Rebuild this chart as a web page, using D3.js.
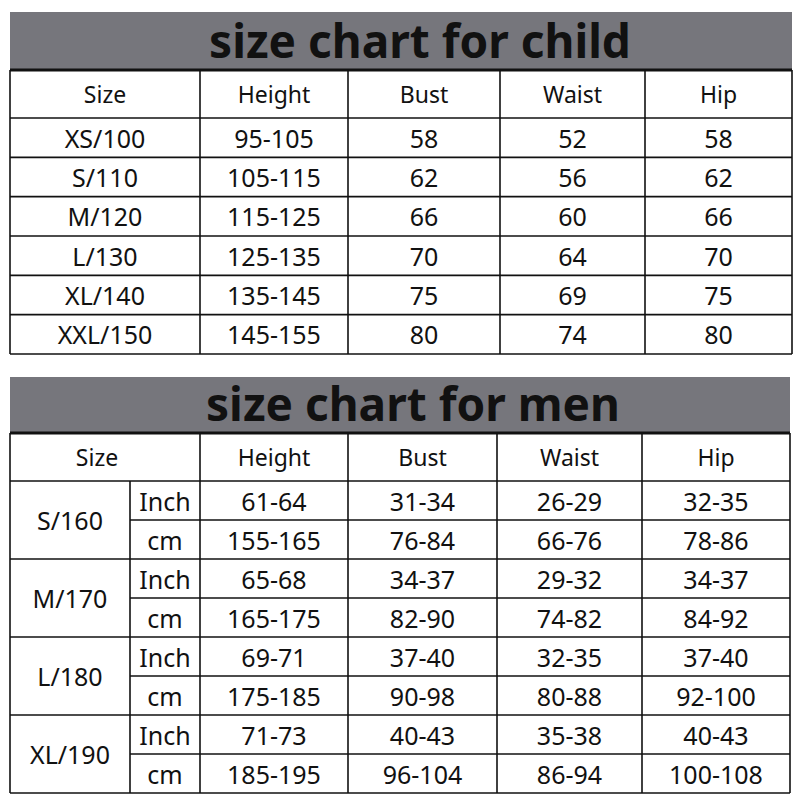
<!DOCTYPE html>
<html><head><meta charset="utf-8">
<script src="https://cdn.jsdelivr.net/npm/d3@7"></script>
<style>body{margin:0;background:#fff}</style></head>
<body><svg id="c" width="800" height="800"></svg>
<script>
const headers = ["Size","Height","Bust","Waist","Hip"];
const childSizes = ["XS/100","S/110","M/120","L/130","XL/140","XXL/150"];
const childHeight = ["95-105","105-115","115-125","125-135","135-145","145-155"];
const childBust = ["58","62","66","70","75","80"];
const childWaist = ["52","56","60","64","69","74"];
const childHip = ["58","62","66","70","75","80"];
const menSizes = ["S/160","M/170","L/180","XL/190"];
const units = ["Inch","cm"];
const menHeight = ["61-64","155-165","65-68","165-175","69-71","175-185","71-73","185-195"];
const menBust = ["31-34","76-84","34-37","82-90","37-40","90-98","40-43","96-104"];
const menWaist = ["26-29","66-76","29-32","74-82","32-35","80-88","35-38","86-94"];
const menHip = ["32-35","78-86","34-37","84-92","37-40","92-100","40-43","100-108"];

const svg = d3.select("#c");
const font = "'Noto Sans', 'Open Sans', sans-serif";
function txt(x,y,t,size,weight){
  svg.append("text").attr("x",x).attr("y",y).attr("text-anchor","middle")
   .attr("dominant-baseline","central").attr("font-family",font)
   .attr("font-size",size).attr("font-weight",weight||400).attr("fill","#111").text(t);
}
function line(x1,y1,x2,y2,w){
  svg.append("line").attr("x1",x1).attr("y1",y1).attr("x2",x2).attr("y2",y2)
   .attr("stroke","#111").attr("stroke-width",w||1.6);
}

// child table
const cx = [10,200,348,500,645,792];
svg.append("rect").attr("x",10).attr("y",12).attr("width",782).attr("height",58).attr("fill","#76767c");
txt(420,40,"size chart for child",46,700);
const ch0=70, ch1=118;
const cy = d3.scaleLinear().domain([0,6]).range([ch1,354]);
const childCols = [childSizes,childHeight,childBust,childWaist,childHip];
line(10,ch0,792,ch0,3);
for(let r=0;r<=6;r++) line(10,cy(r),792,cy(r));
cx.forEach(x=>line(x,ch0,x,cy(6)));
headers.forEach((h,i)=>txt((cx[i]+cx[i+1])/2,(ch0+ch1)/2,h,23));
childCols.forEach((col,i)=>col.forEach((v,r)=>txt((cx[i]+cx[i+1])/2,(cy(r)+cy(r+1))/2,v,25)));

// men table
const mx = [10,130,200,348,497,642,790];
svg.append("rect").attr("x",10).attr("y",377).attr("width",780).attr("height",56).attr("fill","#76767c");
txt(413,403,"size chart for men",46,700);
const hy0=433, hy1=481;
const my = d3.scaleLinear().domain([0,8]).range([hy1,793]);
line(10,hy0,790,hy0,3);
line(10,hy1,790,hy1);
for(let r=1;r<=8;r++){
  const y=my(r);
  if(r%2===0) line(10,y,790,y); else line(130,y,790,y);
}
line(10,hy0,10,my(8)); line(130,hy1,130,my(8));
[200,348,497,642,790].forEach(x=>line(x,hy0,x,my(8)));
txt(97,(hy0+hy1)/2,headers[0],23);
headers.slice(1).forEach((h,i)=>txt((mx[i+2]+mx[i+3])/2,(hy0+hy1)/2,h,23));
menSizes.forEach((s,i)=>txt(70,my(2*i+1),s,25));
for(let r=0;r<8;r++) txt(165,(my(r)+my(r+1))/2,units[r%2],25);
[menHeight,menBust,menWaist,menHip].forEach((col,i)=>col.forEach((v,r)=>txt((mx[i+2]+mx[i+3])/2,(my(r)+my(r+1))/2,v,25)));
</script></body></html>
